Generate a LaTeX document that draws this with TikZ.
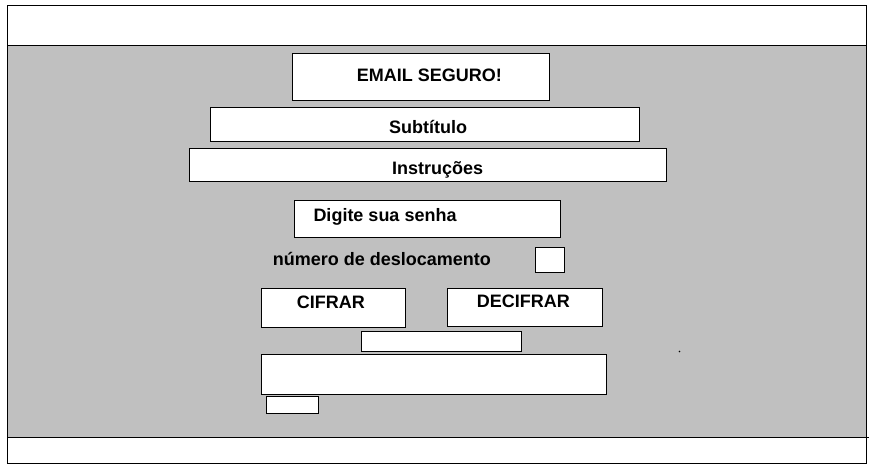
\documentclass[tikz,border=0pt]{standalone}
\usepackage{fontspec}
\setmainfont{Liberation Sans}
\begin{document}
\begin{tikzpicture}[x=1pt,y=-1pt,
  frame/.style={draw=black,line width=1pt},
  wbox/.style={draw=black,fill=white,line width=1pt},
  lbl/.style={font=\fontsize{18}{21}\selectfont\bfseries,inner sep=0pt,anchor=base west}]
\useasboundingbox (0,0) rectangle (873,470);
% header / body / footer
\draw[frame,fill=white] (7,5.5) rectangle (866,45.5);
\draw[frame,fill={rgb,255:red,192;green,192;blue,192}] (7,45.5) rectangle (866,437.5);
\draw[frame,fill=white] (7,437.5) rectangle (866,463.5);
\draw[line width=1pt] (866,437.5) -- (869,437.5);
% boxes
\draw[wbox] (292,53.5) rectangle (549,100.5);
\draw[wbox] (210,107.5) rectangle (639,141.5);
\draw[wbox] (189,148.5) rectangle (666,181.5);
\draw[wbox] (294,200.5) rectangle (560,237.5);
\draw[wbox] (535,247.5) rectangle (564,272.5);
\draw[wbox] (261,288.5) rectangle (405,327.5);
\draw[wbox] (447,288.5) rectangle (602,326.5);
\draw[wbox] (361,331.5) rectangle (521,351.5);
\draw[wbox] (261,354.5) rectangle (606,394.5);
\draw[wbox] (266,396.5) rectangle (318,413.5);
\fill (679.5,351.5) circle (0.8);
% texts
\node[lbl] (title) at (356.7,81.5) {EMAIL SEGURO!};
\node[lbl] (sub) at (389,133.3) {Subtítulo};
\node[lbl] (ins) at (392,175) {Instruções};
\node[lbl] (pw) at (313.3,222) {Digite sua senha};
\node[lbl] (num) at (272.7,266) {número de deslocamento};
\node[lbl] (cif) at (296.7,308.3) {CIFRAR};
\node[lbl] (dec) at (476.7,307.3) {DECIFRAR};
\end{tikzpicture}
\end{document}
